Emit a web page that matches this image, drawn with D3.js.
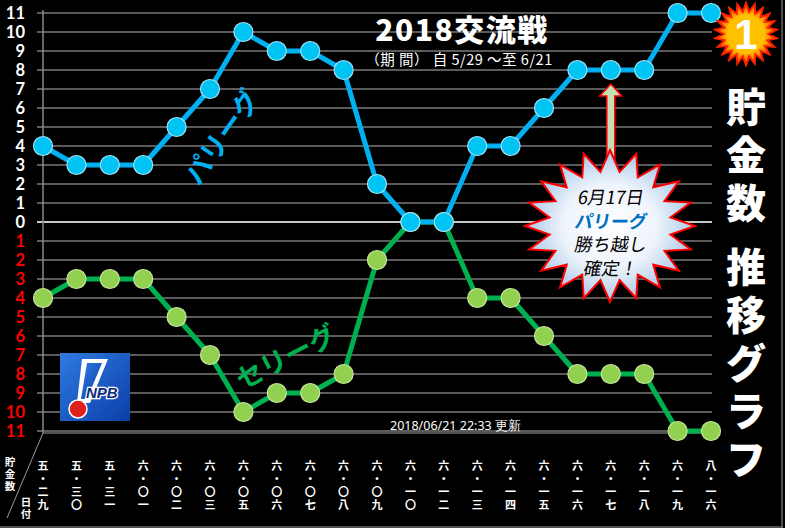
<html>
<head>
<meta charset="utf-8">
<script src="https://d3js.org/d3.v7.min.js"></script>
<style>
  body { margin: 0; background: #000; }
  svg { display: block; }
</style>
</head>
<body>
<div id="chart"></div>
<script>
// date labels (month, tens, ones) as printed under the chart
const dates = ["五・二九","五・三〇","五・三一","六・〇一","六・〇二","六・〇三","六・〇五",
  "六・〇六","六・〇七","六・〇八","六・〇九","六・一〇","六・一二","六・一三","六・一四",
  "六・一五","六・一六","六・一七","六・一八","六・一九","八・一六"];
const pacific = [4,3,3,3,5,7,10,9,9,8,2,0,0,4,4,6,8,8,8,11,11];
const central = [-4,-3,-3,-3,-5,-7,-10,-9,-9,-8,-2,0,0,-4,-4,-6,-8,-8,-8,-11,-11];
const yTicks = d3.range(-11, 12);
const titleChars = ["貯","金","数","推","移","グ","ラ","フ"];
const calloutLines = ["6月17日","パリーグ","勝ち越し","確定！"];

const W = 785, H = 528;
const jp = "'Noto Sans CJK JP', sans-serif";

const svg = d3.select("#chart").append("svg")
  .attr("width", W).attr("height", H);

const defs = svg.append("defs");
const cg = defs.append("radialGradient").attr("id", "calloutFill");
cg.append("stop").attr("offset", "0%").attr("stop-color", "#ffffff");
cg.append("stop").attr("offset", "55%").attr("stop-color", "#eef4fb");
cg.append("stop").attr("offset", "100%").attr("stop-color", "#a9c8e8");
const bg = defs.append("radialGradient").attr("id", "badgeFill");
bg.append("stop").attr("offset", "60%").attr("stop-color", "#ffc000");
bg.append("stop").attr("offset", "100%").attr("stop-color", "#ff4000");
const lg = defs.append("linearGradient").attr("id", "npbFill")
  .attr("x1", 0).attr("y1", 0).attr("x2", 1).attr("y2", 1);
lg.append("stop").attr("offset", "0%").attr("stop-color", "#2f7be0");
lg.append("stop").attr("offset", "100%").attr("stop-color", "#0a3fa8");

svg.append("rect").attr("width", W).attr("height", H).attr("fill", "#000");

const x = d3.scalePoint().domain(dates).range([43, 711]);
const y = d3.scaleLinear().domain([-11, 11]).range([431, 13]);

// gridlines
svg.append("g").selectAll("line")
  .data(yTicks)
  .join("line")
  .attr("x1", 37).attr("x2", 712)
  .attr("y1", d => y(d)).attr("y2", d => y(d))
  .attr("stroke", d => d === 0 ? "#c8c8c8" : "#7a7a7a")
  .attr("stroke-width", d => d === 0 ? 2 : 1.3);

// axis lines
svg.append("line").attr("x1", 43).attr("x2", 43).attr("y1", 10).attr("y2", 433)
  .attr("stroke", "#8a8a8a").attr("stroke-width", 1.5);
svg.append("line").attr("x1", 43).attr("x2", 712).attr("y1", 433).attr("y2", 433)
  .attr("stroke", "#6a6a6a").attr("stroke-width", 1.5);
svg.append("line").attr("x1", 43).attr("x2", 7).attr("y1", 433).attr("y2", 518)
  .attr("stroke", "#9a9a9a").attr("stroke-width", 1);
// frame
svg.append("line").attr("x1", 0).attr("x2", 783).attr("y1", 527).attr("y2", 527)
  .attr("stroke", "#6a6a6a").attr("stroke-width", 1.5);
svg.append("line").attr("x1", 782).attr("x2", 782).attr("y1", 0).attr("y2", 528)
  .attr("stroke", "#6a6a6a").attr("stroke-width", 1.5);

// y labels
svg.append("g").selectAll("text")
  .data(yTicks)
  .join("text")
  .attr("x", 25).attr("y", d => y(d)).attr("dy", "0.36em")
  .attr("text-anchor", "end")
  .attr("font-family", "Lato, 'Open Sans', sans-serif")
  .attr("font-weight", "bold").attr("font-size", 16.5)
  .attr("fill", d => d < 0 ? "#ff0000" : "#ffffff")
  .text(d => Math.abs(d));

// one character per text, stacked top to bottom
function stack(chars, cx, y0, step, size, weight) {
  Array.from(chars).forEach((ch, i) => {
    svg.append("text")
      .attr("x", cx).attr("y", y0 + i * step).attr("dy", "0.36em")
      .attr("text-anchor", "middle")
      .attr("font-family", jp).attr("font-weight", weight).attr("font-size", size)
      .attr("fill", "#fff").text(ch);
  });
}

// x labels
dates.forEach(d => stack(d, x(d), 466, 13, 11, "bold"));
stack("貯金数", 10, 462, 12, 10.5, "bold");
stack("日付", 26, 502, 12, 10.5, "bold");

// series
function drawSeries(vals, lineColor, dotColor, edgeColor) {
  const pts = dates.map((d, i) => [x(d), y(vals[i])]);
  svg.append("path")
    .attr("d", d3.line()(pts))
    .attr("fill", "none").attr("stroke", lineColor)
    .attr("stroke-width", 5).attr("stroke-linejoin", "round");
  svg.append("g").selectAll("circle")
    .data(pts).join("circle")
    .attr("cx", p => p[0]).attr("cy", p => p[1]).attr("r", 9.5)
    .attr("fill", dotColor).attr("stroke", edgeColor).attr("stroke-width", 1.2);
}
drawSeries(central, "#00b050", "#92d050", "#c6e59c");
drawSeries(pacific, "#00b0f0", "#00c4f4", "#9fe0f8");

// series labels
svg.append("text").attr("transform", "translate(222,137) rotate(-55)")
  .attr("text-anchor", "middle").attr("dy", "0.36em")
  .attr("font-family", jp).attr("font-weight", "bold").attr("font-size", 27)
  .attr("fill", "#00b0f0").text("パリーグ");
svg.append("text").attr("transform", "translate(286,357) rotate(-27)")
  .attr("text-anchor", "middle").attr("dy", "0.36em")
  .attr("font-family", jp).attr("font-weight", "bold").attr("font-size", 27)
  .attr("fill", "#00b050").text("セリーグ");

// titles
svg.append("text").attr("x", 462).attr("y", 41).attr("text-anchor", "middle")
  .attr("font-family", jp).attr("font-weight", 900).attr("font-size", 30)
  .attr("letter-spacing", 1.5)
  .attr("fill", "#fff").text("2018交流戦");
svg.append("text").attr("x", 459).attr("y", 65).attr("text-anchor", "middle")
  .attr("font-family", jp).attr("font-size", 14.5).attr("letter-spacing", 0.5)
  .attr("fill", "#fff").text("（期 間） 自 5/29 ～至 6/21");
svg.append("text").attr("x", 390).attr("y", 430)
  .attr("font-family", "'Noto Sans', sans-serif").attr("font-size", 12.5)
  .attr("fill", "#fff").text("2018/06/21 22:33 更新");

// vertical title on the right
const tY = [108, 156, 204, 268, 316, 364, 412, 460];
titleChars.forEach((ch, i) => {
  svg.append("text").attr("x", 746).attr("y", tY[i]).attr("dy", "0.36em")
    .attr("text-anchor", "middle").attr("font-family", jp).attr("font-weight", 900)
    .attr("font-size", 40).attr("fill", "#fff").text(ch);
});

// starburst helper
function burst(cx, cy, rx, ry, k, n) {
  const pts = [];
  for (let i = 0; i < n * 2; i++) {
    const a = -Math.PI / 2 + i * Math.PI / n;
    const f = i % 2 === 0 ? 1 : k;
    pts.push([cx + rx * f * Math.cos(a), cy + ry * f * Math.sin(a)]);
  }
  return "M" + pts.map(p => p.join(",")).join("L") + "Z";
}

// badge "1"
svg.append("path").attr("d", burst(746, 34, 31, 31, 0.72, 22))
  .attr("fill", "url(#badgeFill)").attr("stroke", "#ff2000").attr("stroke-width", 2)
  .attr("stroke-linejoin", "miter");
svg.append("text").attr("x", 746).attr("y", 34).attr("dy", "0.36em")
  .attr("text-anchor", "middle").attr("font-family", "'Liberation Sans', Arial, sans-serif")
  .attr("font-weight", "bold").attr("font-size", 42).attr("fill", "#fff").text("1");

// arrow to 6/17 point
const ax = x("六・一七");
svg.append("path")
  .attr("d", `M${ax},${y(8) + 14} L${ax + 11},${y(8) + 26} L${ax + 4},${y(8) + 26} L${ax + 4},175 L${ax - 4},175 L${ax - 4},${y(8) + 26} L${ax - 11},${y(8) + 26} Z`)
  .attr("fill", "#c5e0b4").attr("stroke", "#ff0000").attr("stroke-width", 1.5);

// callout
svg.append("path").attr("d", burst(610, 226, 85, 76, 0.72, 20))
  .attr("fill", "url(#calloutFill)").attr("stroke", "#ff0000").attr("stroke-width", 2);
const sk = Math.tan(10 * Math.PI / 180);
calloutLines.forEach((t, i) => {
  const ty = 198 + i * 23.5;
  svg.append("text").attr("x", 611).attr("y", ty).attr("dy", "0.36em")
    .attr("text-anchor", "middle").attr("font-family", jp)
    .attr("font-size", 18).attr("fill", i === 1 ? "#0070c0" : "#000")
    .attr("font-weight", i === 1 ? "bold" : "normal")
    .attr("transform", `translate(${ty * sk},0) skewX(-10)`)
    .text(t);
});

// NPB logo
const logo = svg.append("g").attr("transform", "translate(60,353)");
logo.append("rect").attr("width", 70).attr("height", 68).attr("fill", "url(#npbFill)");
logo.append("path").attr("d", "M22,6 L48,6 L30,50 L17,50 Z")
  .attr("fill", "#fff");
logo.append("path").attr("d", "M27,10 L42,10 L27,46 L21,46 Z")
  .attr("fill", "url(#npbFill)");
logo.append("circle").attr("cx", 18).attr("cy", 56).attr("r", 9)
  .attr("fill", "#e0201c").attr("stroke", "#fff").attr("stroke-width", 1.5);
logo.append("text").attr("x", 26).attr("y", 45).attr("font-family", "'Liberation Sans', Arial, sans-serif")
  .attr("font-weight", "bold").attr("font-style", "italic").attr("font-size", 15)
  .attr("fill", "#0a2a80").attr("stroke", "#fff").attr("stroke-width", 2.5)
  .attr("paint-order", "stroke").text("NPB");
</script>
</body>
</html>
